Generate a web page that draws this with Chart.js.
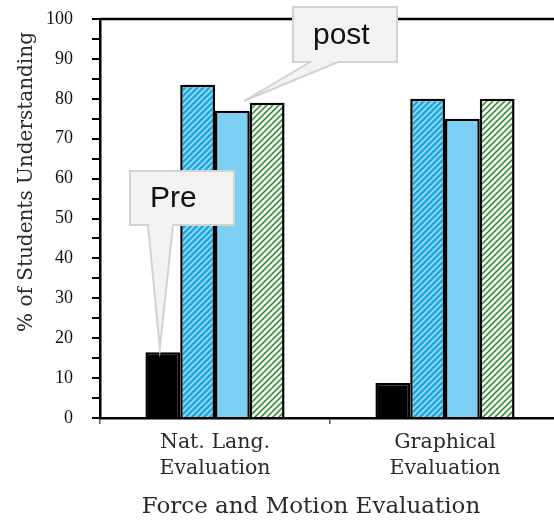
<!DOCTYPE html>
<html>
<head>
<meta charset="utf-8">
<script src="https://cdn.jsdelivr.net/npm/chart.js@4.4.1/dist/chart.umd.min.js"></script>
<style>
    html, body { margin: 0; padding: 0; background: #fff; }
    #wrap { width: 554px; height: 525px; overflow: hidden; }
</style>
</head>
<body>
<div id="wrap"><canvas id="chart" width="560" height="525"></canvas></div>
<script>
// DATA

const categories = [["Nat. Lang.", "Evaluation"], ["Graphical", "Evaluation"]];
const preValues = [16.5, 8.8];
const postStripedValues = [83.5, 80];
const postSolidValues = [77, 75];
const postGreenValues = [79, 80];
const yTicks = [0, 10, 20, 30, 40, 50, 60, 70, 80, 90, 100];

// PATTERNS

function stripePattern(bg, stripe, lineWidth) {
    const tile = document.createElement("canvas");
    tile.width = 6;
    tile.height = 6;
    const c = tile.getContext("2d");
    c.fillStyle = bg;
    c.fillRect(0, 0, 6, 6);
    c.strokeStyle = stripe;
    c.lineWidth = lineWidth;
    c.beginPath();
    c.moveTo(-1, 7); c.lineTo(7, -1);
    c.moveTo(-4, 4); c.lineTo(4, -4);
    c.moveTo(2, 10); c.lineTo(10, 2);
    c.stroke();
    return document.getElementById("chart").getContext("2d").createPattern(tile, "repeat");
}

const blueStripes = stripePattern("#1ea8e0", "#9fdcf5", 1.6);
const greenStripes = stripePattern("#f4fbf2", "#2f8030", 1.5);

// CALLOUTS + FRAME + TITLES

function drawCallout(ctx, box, tailL, tailR, tip, text, textX) {
    ctx.save();
    ctx.beginPath();
    ctx.moveTo(box.x, box.y);
    ctx.lineTo(box.x + box.w, box.y);
    ctx.lineTo(box.x + box.w, box.y + box.h);
    ctx.lineTo(tailR, box.y + box.h);
    ctx.lineTo(tip.x, tip.y);
    ctx.lineTo(tailL, box.y + box.h);
    ctx.lineTo(box.x, box.y + box.h);
    ctx.closePath();
    ctx.fillStyle = "#f2f2f2";
    ctx.fill();
    ctx.strokeStyle = "#d2d2d2";
    ctx.lineWidth = 2;
    ctx.stroke();
    ctx.fillStyle = "#111";
    ctx.font = "30px 'Liberation Sans', Arial, sans-serif";
    ctx.textBaseline = "middle";
    ctx.textAlign = "left";
    ctx.fillText(text, textX, box.y + box.h / 2 + 1);
    ctx.restore();
}

const extrasPlugin = {
    id: "extras",
    afterDraw(chart) {
        const ctx = chart.ctx;
        const area = chart.chartArea;

        // top frame line
        ctx.save();
        ctx.strokeStyle = "#000";
        ctx.lineWidth = 2.5;
        ctx.beginPath();
        ctx.moveTo(area.left, area.top);
        ctx.lineTo(chart.width, area.top);
        ctx.stroke();
        ctx.restore();

        // axis titles
        ctx.save();
        ctx.fillStyle = "#2a2a2a";
        ctx.textAlign = "center";
        ctx.textBaseline = "middle";
        ctx.font = "23px 'DejaVu Serif', serif";
        ctx.fillText("Force and Motion Evaluation", 311, 507);
        ctx.translate(27, 182);
        ctx.rotate(-Math.PI / 2);
        ctx.font = "20px 'DejaVu Serif', serif";
        ctx.fillText("% of Students Understanding", 0, 0);
        ctx.restore();

        // callouts pointing at bars
        const preBar = chart.getDatasetMeta(0).data[0];
        const postBar = chart.getDatasetMeta(2).data[0];
        drawCallout(ctx, { x: 130, y: 171, w: 104, h: 54 }, 148, 173,
            { x: preBar.x - 3, y: preBar.y - 4 }, "Pre", 150);
        drawCallout(ctx, { x: 293, y: 7, w: 104, h: 55 }, 310, 338,
            { x: postBar.x + 12, y: postBar.y - 10 }, "post", 313);
    }
};

// CHART

new Chart(document.getElementById("chart"), {
    type: "bar",
    data: {
        labels: categories,
        datasets: [
            { label: "Pre", data: preValues, backgroundColor: "#000000" },
            { label: "Post 1", data: postStripedValues, backgroundColor: blueStripes },
            { label: "Post 2", data: postSolidValues, backgroundColor: "#7dd0f3" },
            { label: "Post 3", data: postGreenValues, backgroundColor: greenStripes }
        ].map(ds => Object.assign(ds, {
            borderColor: "#000",
            borderWidth: 2.5,
            barPercentage: 1,
            categoryPercentage: 0.605
        }))
    },
    options: {
        responsive: false,
        animation: false,
        layout: { padding: { top: 19, left: 0, right: 0, bottom: 0 } },
        plugins: { legend: { display: false }, tooltip: { enabled: false } },
        scales: {
            x: {
                afterFit(scale) {
                    scale.height = 107;
                    scale.paddingLeft = 0;
                    scale.paddingRight = 0;
                },
                grid: {
                    offset: true,
                    drawOnChartArea: false,
                    tickLength: 6,
                    color: "#555",
                    lineWidth: 1.5
                },
                border: { color: "#000", width: 2.5 },
                ticks: {
                    color: "#2a2a2a",
                    padding: 6,
                    maxRotation: 0,
                    font: { family: "'DejaVu Serif', serif", size: 20.5, lineHeight: 1.27 }
                }
            },
            y: {
                min: 0,
                max: 100,
                afterFit(scale) {
                    scale.width = 100;
                    scale.paddingTop = 0;
                    scale.paddingBottom = 0;
                },
                grid: {
                    drawOnChartArea: false,
                    tickLength: 8,
                    color: "#000",
                    lineWidth: 2
                },
                border: { color: "#000", width: 2.5 },
                ticks: {
                    stepSize: 5,
                    autoSkip: false,
                    color: "#111",
                    padding: 19,
                    font: { family: "'Liberation Serif', serif", size: 18 },
                    callback: v => yTicks.includes(v) ? v : ""
                }
            }
        }
    },
    plugins: [extrasPlugin]
});
</script>
</body>
</html>
